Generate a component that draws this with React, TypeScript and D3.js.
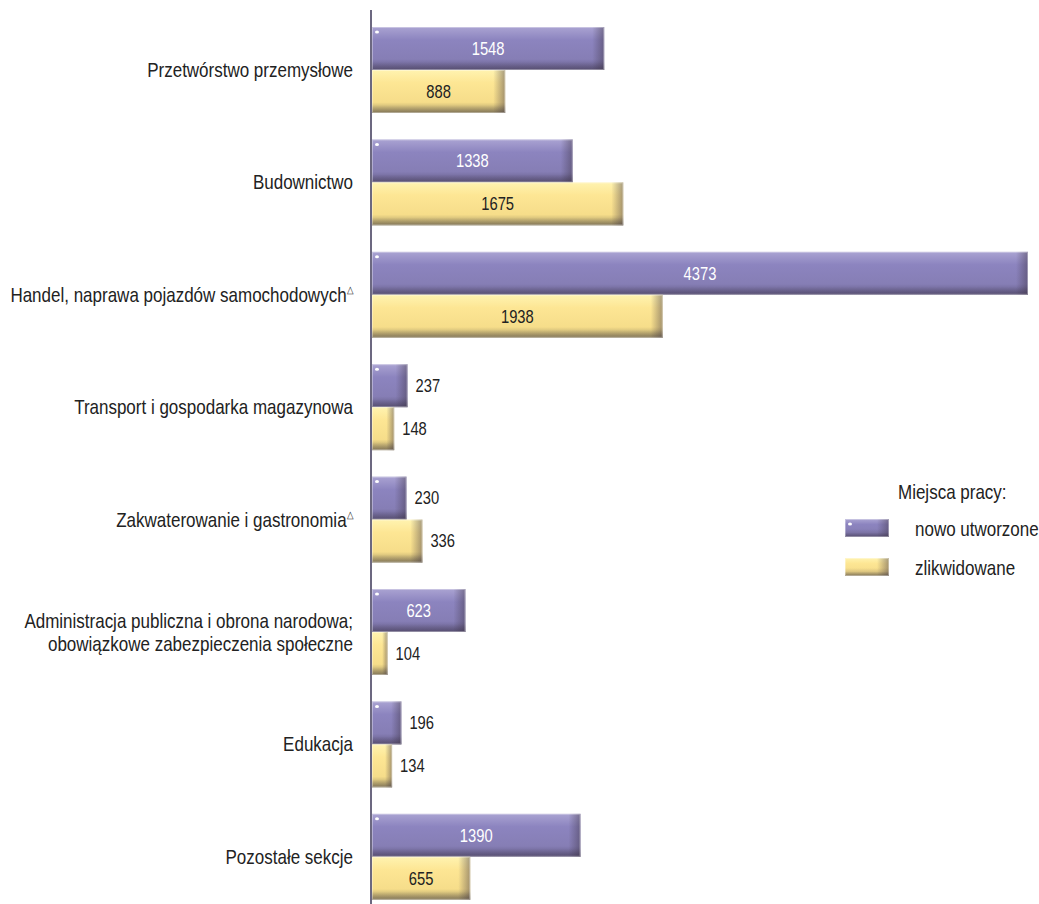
import * as React from "react";
import { scaleBand, scaleLinear } from "d3";

const categories = [
  ["Przetwórstwo przemysłowe"],
  ["Budownictwo"],
  ["Handel, naprawa pojazdów samochodowych△"],
  ["Transport i gospodarka magazynowa"],
  ["Zakwaterowanie i gastronomia△"],
  ["Administracja publiczna i obrona narodowa;", "obowiązkowe zabezpieczenia społeczne"],
  ["Edukacja"],
  ["Pozostałe sekcje"],
];
const created = [1548, 1338, 4373, 237, 230, 623, 196, 1390];
const removed = [888, 1675, 1938, 148, 336, 104, 134, 655];
const seriesNames = ["nowo utworzone", "zlikwidowane"];
const legendTitle = "Miejsca pracy:";

const W = 1039;
const H = 904;
const FONT = "'Liberation Sans', Arial, sans-serif";

const palette = [
  { id: "p", top: "#aaa3d2", mid: "#8c84bf", low: "#867eb5", bot: "#625a84", label: "#ffffff" },
  { id: "y", top: "#fff3b0", mid: "#fde694", low: "#f6dd8a", bot: "#a09262", label: "#222222" },
];

// narrow text: the reference uses a condensed face, so squeeze horizontally
const NText = ({ x, y, sx, anchor, size, fill, children }: any) => (
  <g transform={`translate(${x},${y}) scale(${sx},1)`}>
    <text x={0} y={0} dy="0.35em" textAnchor={anchor} fontSize={size} fill={fill}>
      {children}
    </text>
  </g>
);

const Bar = ({ x, y, w, h, s }: { x: number; y: number; w: number; h: number; s: number }) => {
  const edge = Math.min(12, w * 0.35);
  return (
    <g>
      <rect x={x} y={y} width={w} height={h} fill={`url(#v${palette[s].id})`} />
      <rect x={x + w - edge} y={y} width={edge} height={h} fill="url(#edgeR)" />
      <rect x={x} y={y + h - 8} width={w} height={8} fill="url(#edgeB)" />
      <rect x={x + 0.5} y={y + 0.5} width={Math.max(0, w - 1)} height={h - 1} fill="none" stroke="#ffffff" strokeOpacity={0.35} />
      {s === 0 && <ellipse cx={x + 5} cy={y + 5} rx={2} ry={1.5} fill="#ffffff" />}
    </g>
  );
};

export default function App() {
  const x = scaleLinear().domain([0, 4373]).range([372, 1028]);
  const y0 = scaleBand<number>()
    .domain(categories.map((_, i) => i))
    .range([13.8, 13.8 + 8 * 112.4])
    .paddingInner(0.235)
    .paddingOuter(0.1175);
  const y1 = scaleBand<number>().domain([0, 1]).range([0, y0.bandwidth()]);

  const series = [created, removed];

  return (
    <svg width={W} height={H} style={{ position: "absolute", left: 0, top: 0, fontFamily: FONT }}>
      <defs>
        {palette.map((p) => (
          <linearGradient key={p.id} id={`v${p.id}`} x1="0" y1="0" x2="0" y2="1">
            <stop offset="0" stopColor={p.top} />
            <stop offset="0.3" stopColor={p.mid} />
            <stop offset="0.75" stopColor={p.low} />
            <stop offset="1" stopColor={p.bot} />
          </linearGradient>
        ))}
        <linearGradient id="edgeR" x1="0" y1="0" x2="1" y2="0">
          <stop offset="0" stopColor="#3a3040" stopOpacity={0} />
          <stop offset="1" stopColor="#3a3040" stopOpacity={0.45} />
        </linearGradient>
        <linearGradient id="edgeB" x1="0" y1="0" x2="0" y2="1">
          <stop offset="0" stopColor="#3a3040" stopOpacity={0} />
          <stop offset="1" stopColor="#3a3040" stopOpacity={0.3} />
        </linearGradient>
      </defs>
      <rect width={W} height={H} fill="#ffffff" />

      {categories.map((lines, i) => {
        const gy = y0(i)!;
        const cy = gy + y0.bandwidth() / 2;
        return (
          <g key={i}>
            {series.map((vals, s) => {
              const by = gy + y1(s)!;
              const bw = x(vals[i]) - x(0);
              const inside = bw > 70;
              return (
                <g key={s}>
                  <Bar x={x(0)} y={by} w={bw} h={y1.bandwidth()} s={s} />
                  <NText
                    x={inside ? x(0) + bw / 2 : x(vals[i]) + 8}
                    y={by + y1.bandwidth() / 2}
                    sx={0.82}
                    anchor={inside ? "middle" : "start"}
                    size={18}
                    fill={inside ? palette[s].label : "#222222"}
                  >
                    {vals[i]}
                  </NText>
                </g>
              );
            })}
            {lines.map((ln, k) => {
              const tri = ln.endsWith("△");
              const ly = cy + (k - (lines.length - 1) / 2) * 23;
              return (
                <NText key={k} x={353} y={ly} sx={0.85} anchor="end" size={20} fill="#222222">
                  {tri ? ln.slice(0, -1) : ln}
                  {tri && (
                    <tspan fontSize={10} dy="-0.9em">
                      {"△"}
                    </tspan>
                  )}
                </NText>
              );
            })}
          </g>
        );
      })}

      <line x1={371} x2={371} y1={10} y2={H} stroke="#6c6880" strokeWidth={2} />

      <NText x={898} y={492} sx={0.85} anchor="start" size={20} fill="#222222">
        {legendTitle}
      </NText>
      {seriesNames.map((n, s) => (
        <g key={n}>
          <Bar x={845} y={519 + s * 39} w={44} h={18} s={s} />
          <NText x={915} y={529 + s * 39} sx={0.85} anchor="start" size={20} fill="#222222">
            {n}
          </NText>
        </g>
      ))}
    </svg>
  );
}
